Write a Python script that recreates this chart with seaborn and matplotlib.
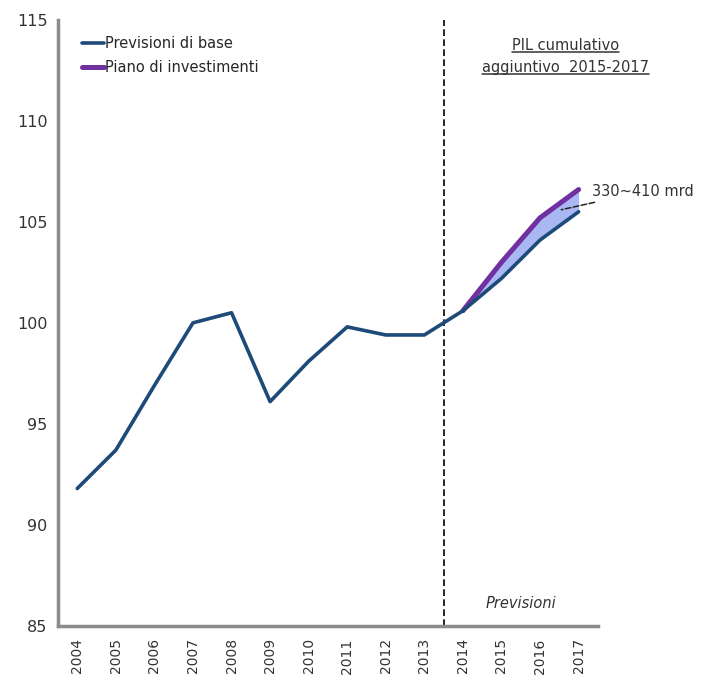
import matplotlib

matplotlib.use("Agg")
import matplotlib.pyplot as plt
import numpy as np
import pandas as pd
import seaborn as sns

# ----------------------------------------------------------------------
# Data
# ----------------------------------------------------------------------
years = [2004, 2005, 2006, 2007, 2008, 2009, 2010, 2011, 2012, 2013,
         2014, 2015, 2016, 2017]
base = [91.8, 93.7, 96.9, 100.0, 100.5, 96.1, 98.1, 99.8, 99.4, 99.4,
        100.6, 102.2, 104.1, 105.5]
invest_years = [2014, 2015, 2016, 2017]
invest = [100.6, 103.0, 105.2, 106.6]

BASE_COLOR = "#1d4a78"
INV_COLOR = "#7030a0"
FILL_COLOR = "#a9b8f2"
SPINE_COLOR = "#8c8c8c"
TEXT_COLOR = "#333333"

sns.set_style("white")
plt.rcParams["font.family"] = ["DejaVu Sans"]

fig = plt.figure(figsize=(7.03, 6.84), dpi=100)
ax = fig.add_axes([0.0825, 0.085, 0.768, 0.886])

df_base = pd.DataFrame({"anno": years, "valore": base})
df_inv = pd.DataFrame({"anno": invest_years, "valore": invest})

base_fc = df_base[df_base["anno"].isin(invest_years)]["valore"].to_numpy()
ax.fill_between(invest_years, base_fc, invest, color=FILL_COLOR, lw=0, zorder=1)

sns.lineplot(data=df_inv, x="anno", y="valore", color=INV_COLOR, lw=3.6,
             ax=ax, label="Piano di investimenti", zorder=3)
sns.lineplot(data=df_base, x="anno", y="valore", color=BASE_COLOR, lw=2.6,
             ax=ax, label="Previsioni di base", zorder=4)

# forecast separator
ax.axvline(2013.5, color="black", lw=1.2, ls=(0, (4, 2)), zorder=2)

ax.set_xlim(2003.5, 2017.5)
ax.set_ylim(85, 115)
ax.set_yticks([85, 90, 95, 100, 105, 110, 115])
ax.set_xticks(years)
ax.set_xticklabels([str(y) for y in years], rotation=90, fontsize=10, color=TEXT_COLOR)
ax.set_xticks(np.arange(2003.5, 2018, 1.0), minor=True)
ax.tick_params(axis="x", which="major", length=0, pad=9)
ax.tick_params(axis="x", which="minor", length=4, color=SPINE_COLOR, width=1.5)
ax.tick_params(axis="y", length=4, color=SPINE_COLOR, width=1.5, labelsize=11.5,
               labelcolor=TEXT_COLOR)
ax.set_xlabel("")
ax.set_ylabel("")

for side in ["top", "right"]:
    ax.spines[side].set_visible(False)
for side in ["left", "bottom"]:
    ax.spines[side].set_color(SPINE_COLOR)
    ax.spines[side].set_linewidth(2.5)

handles, labels = ax.get_legend_handles_labels()
ax.legend(handles[::-1], labels[::-1], loc="upper left", bbox_to_anchor=(0.02, 0.995),
          frameon=False, fontsize=10.5, handlelength=1.5, handletextpad=0.1,
          labelspacing=0.6, prop={"size": 10.5})

# underlined title of the forecast area
title_lines = [("PIL cumulativo", 113.75), ("aggiuntivo  2015-2017", 112.65)]
fig.canvas.draw()
renderer = fig.canvas.get_renderer()
inv = ax.transData.inverted()
for txt, yv in title_lines:
    t = ax.text(2016.65, yv, txt, ha="center", va="center", fontsize=10.5,
                color=TEXT_COLOR)
    bb = t.get_window_extent(renderer)
    (x0, y0), (x1, _) = inv.transform([(bb.x0, bb.y0), (bb.x1, bb.y0)])
    ax.plot([x0, x1], [y0 + 0.05, y0 + 0.05], color=TEXT_COLOR, lw=1.1,
            clip_on=False)

ax.annotate("330~410 mrd", xy=(2016.55, 105.6), xytext=(2017.35, 106.5),
            fontsize=10.5, color=TEXT_COLOR, va="center", annotation_clip=False,
            arrowprops=dict(arrowstyle="-", ls="--", color="#222222", lw=1.1,
                            shrinkA=0, shrinkB=0))

ax.text(2015.5, 85.9, "Previsioni", style="italic", ha="center", fontsize=10.5,
        color=TEXT_COLOR)

fig.savefig("out.png", dpi=100)
